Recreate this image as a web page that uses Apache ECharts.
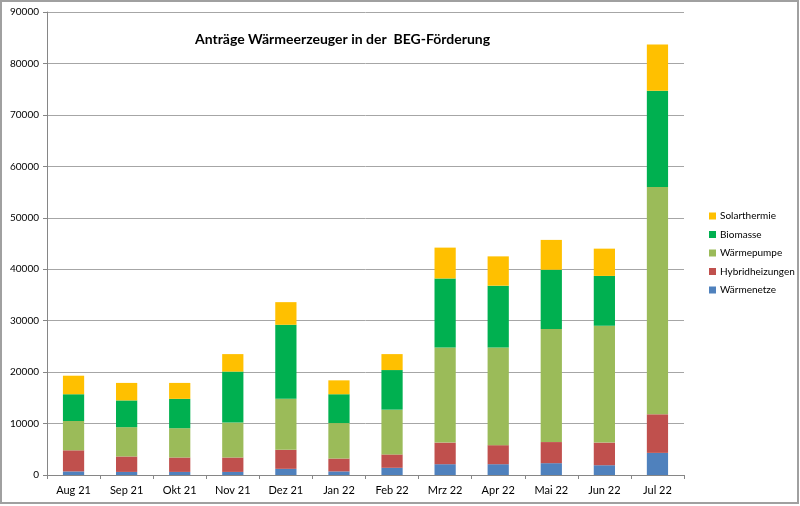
<!DOCTYPE html>
<html>
<head>
<meta charset="utf-8">
<script src="https://cdn.jsdelivr.net/npm/echarts@6/dist/echarts.min.js"></script>
<style>
html,body{margin:0;padding:0;background:#fff;}
#chart{width:800px;height:506px;}
</style>
</head>
<body>
<div id="chart"></div>
<script>
const categories = ['Aug 21','Sep 21','Okt 21','Nov 21','Dez 21','Jan 22','Feb 22','Mrz 22','Apr 22','Mai 22','Jun 22','Jul 22'];
const waermenetze    = [700, 600, 600, 600, 1200, 700, 1400, 2100, 2100, 2300, 1900, 4300];
const hybridheizungen = [4100, 3000, 2800, 2800, 3700, 2500, 2600, 4200, 3700, 4100, 4400, 7500];
const waermepumpe    = [5700, 5700, 5700, 6800, 9900, 6900, 8700, 18500, 19000, 22000, 22700, 44200];
const biomasse       = [5200, 5200, 5700, 9900, 14400, 5600, 7700, 13400, 12000, 11500, 9700, 18700];
const solarthermie   = [3600, 3400, 3100, 3400, 4400, 2700, 3100, 6000, 5700, 5800, 5300, 9000];

const FONT = 'Lato, "Open Sans", sans-serif';
const chart = echarts.init(document.getElementById('chart'), null, {renderer: 'canvas'});

function s(name, data, color) {
  return {name: name, type: 'bar', stack: 'total', data: data, barWidth: '40%',
          itemStyle: {color: color}, emphasis: {disabled: true}};
}

chart.setOption({
  animation: false,
  backgroundColor: '#fff',
  title: {
    text: 'Anträge Wärmeerzeuger in der  BEG-Förderung',
    left: 190, top: 27,
    textStyle: {fontFamily: FONT, fontSize: 14, fontWeight: 'bold', color: '#000'}
  },
  legend: {
    orient: 'vertical', left: 704, top: 206,
    itemWidth: 7, itemHeight: 7, itemGap: 8.5,
    icon: 'rect',
    data: ['Solarthermie','Biomasse','Wärmepumpe','Hybridheizungen','Wärmenetze'],
    textStyle: {fontFamily: FONT, fontSize: 10, color: '#000', padding: [0,0,0,-1]}
  },
  grid: {left: 47, right: 116, top: 12, bottom: 31, containLabel: false},
  xAxis: {
    type: 'category', data: categories,
    axisLine: {lineStyle: {color: '#868686'}},
    axisTick: {show: true, length: 4, lineStyle: {color: '#868686'}},
    axisLabel: {fontFamily: FONT, fontSize: 11, color: '#000', margin: 10, interval: 0}
  },
  yAxis: {
    type: 'value', min: 0, max: 90000, interval: 10000,
    axisLine: {show: true, lineStyle: {color: '#868686'}},
    axisTick: {show: true, length: 4, lineStyle: {color: '#868686'}},
    splitLine: {lineStyle: {color: '#a6a6a6'}},
    axisLabel: {fontFamily: FONT, fontSize: 10, color: '#000', margin: 8,
                formatter: function (v) { return String(v); }}
  },
  graphic: [{
    type: 'rect', shape: {x: 1, y: 1, width: 797, height: 502},
    style: {fill: 'none', stroke: '#a0a0a0', lineWidth: 2}, silent: true
  }],
  series: [
    s('Wärmenetze', waermenetze, '#4F81BD'),
    s('Hybridheizungen', hybridheizungen, '#C0504D'),
    s('Wärmepumpe', waermepumpe, '#9BBB59'),
    s('Biomasse', biomasse, '#00B050'),
    s('Solarthermie', solarthermie, '#FFC000')
  ]
});
</script>
</body>
</html>
